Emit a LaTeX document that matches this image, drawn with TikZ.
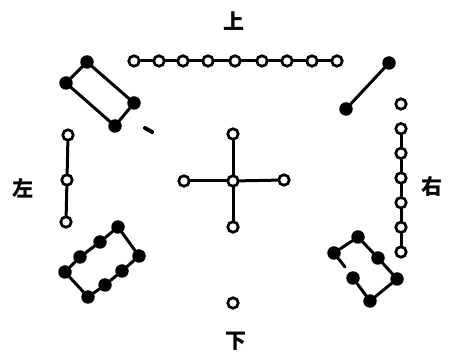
\documentclass[tikz,border=0pt]{standalone}
\usepackage{fontspec}
\newfontfamily\cjk{Noto Sans CJK SC}
\begin{document}
\begin{tikzpicture}[x=1pt,y=-1pt,
  wdot/.style={circle,draw=black,fill=white,line width=2.7pt,inner sep=0pt,minimum size=10.5pt},
  bdot/.style={circle,fill=black,inner sep=0pt,minimum size=13.5pt},
  link/.style={line width=3pt,line cap=round},
  lbl/.style={font=\cjk\bfseries\fontsize{21}{21}\selectfont,inner sep=0pt}]
\useasboundingbox (0,0) rectangle (456,358);
% labels
\node[lbl] (top) at (234,21) {上};
\node[lbl] (bot) at (236,341) {下};
\node[lbl] (lft) at (23,188) {左};
\node[lbl] (rgt) at (432,187) {右};
% top 9 white
\foreach \i/\x in {1/134,2/159,3/183,4/208,5/235,6/262,7/287,8/312,9/337}
  \node[wdot] (t\i) at (\x,61) {};
\foreach \a/\b in {1/2,2/3,3/4,4/5,5/6,6/7,7/8,8/9}
  \draw[link] (t\a) -- (t\b);
% upper right 2 black
\node[bdot] (ur1) at (389,63) {};
\node[bdot] (ur2) at (346,109) {};
\draw[link] (ur1) -- (ur2);
% right 7 white
\foreach \i/\y in {1/104,2/128.7,3/153.3,4/178,5/202.7,6/227.3,7/252}
  \node[wdot] (r\i) at (401,\y) {};
\foreach \a/\b in {2/3,3/4,4/5,5/6,6/7}
  \draw[link] (r\a) -- (r\b);
% lower right 6 black
\node[bdot] (lr1) at (334,253) {};
\node[bdot] (lr2) at (358,237) {};
\node[bdot] (lr3) at (378,258) {};
\node[bdot] (lr4) at (397,279) {};
\node[bdot] (lr5) at (370,301) {};
\node[bdot] (lr6) at (353,278) {};
\draw[link] (lr1) -- (lr2) -- (lr3) -- (lr4) -- (lr5) -- (lr6);
\coordinate (lrstub) at (345,267);
\draw[link] (lr1) -- (lrstub);
% bottom 1 white
\node[wdot] (b1) at (233,303) {};
% lower left 8 black
\node[bdot] (ll1) at (118,227) {};
\node[bdot] (ll2) at (100,242) {};
\node[bdot] (ll3) at (80,257) {};
\node[bdot] (ll4) at (65,272) {};
\node[bdot] (ll5) at (88,297) {};
\node[bdot] (ll6) at (105,285) {};
\node[bdot] (ll7) at (122,271) {};
\node[bdot] (ll8) at (139,256) {};
\draw[link] (ll1) -- (ll2) -- (ll3) -- (ll4) -- (ll5) -- (ll6) -- (ll7) -- (ll8) -- (ll1);
% left 3 white
\node[wdot] (l1) at (68,135) {};
\node[wdot] (l2) at (67,180) {};
\node[wdot] (l3) at (66,222) {};
\draw[link] (l1) -- (l2) -- (l3);
% upper left 4 black
\node[bdot] (ul1) at (87,62) {};
\node[bdot] (ul2) at (66,83) {};
\node[bdot] (ul3) at (115,126) {};
\node[bdot] (ul4) at (134,103) {};
\draw[link] (ul1) -- (ul2) -- (ul3) -- (ul4) -- (ul1);
% stray mark
\coordinate (m1) at (145,128);
\coordinate (m2) at (152,132);
\draw[line width=4pt,line cap=round] (m1) -- (m2);
% centre 5 white
\node[wdot] (c0) at (233,181) {};
\node[wdot] (cn) at (233,134) {};
\node[wdot] (cw) at (184,181) {};
\node[wdot] (ce) at (284,180) {};
\node[wdot] (cs) at (233,227) {};
\draw[link] (c0) -- (cn);
\draw[link] (c0) -- (cw);
\draw[link] (c0) -- (ce);
\draw[link] (c0) -- (cs);
\end{tikzpicture}
\end{document}
